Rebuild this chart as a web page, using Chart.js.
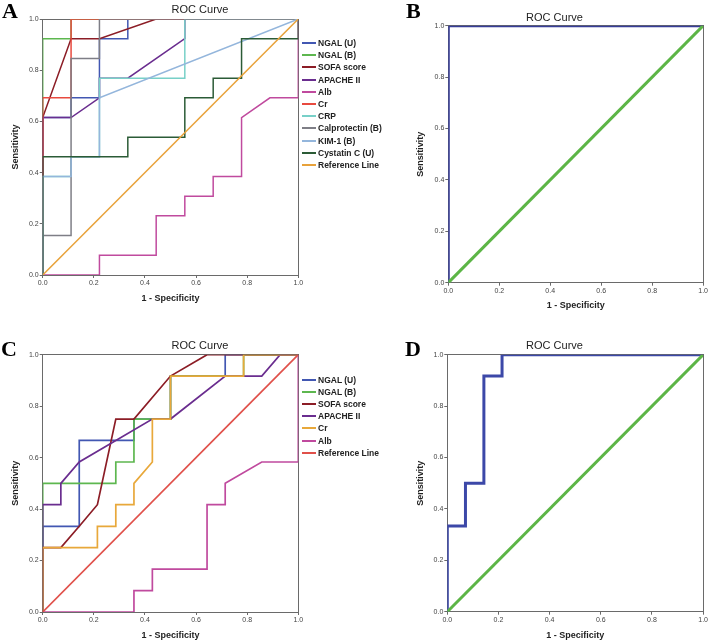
<!DOCTYPE html>
<html><head><meta charset="utf-8">
<script src="https://cdn.jsdelivr.net/npm/chart.js@4"></script>
<style>
html,body{margin:0;padding:0;background:#fff;width:709px;height:642px;overflow:hidden;}
.pane{position:absolute;}
.letter{position:absolute;font-family:'Liberation Serif','Times New Roman',serif;font-weight:bold;font-size:22px;line-height:22px;color:#000;}
.legend{position:absolute;font-family:'Liberation Sans',Arial,sans-serif;font-weight:bold;font-size:8.5px;color:#222;}
.legend .item{position:absolute;left:0;height:12px;white-space:nowrap;}
.legend .sw{position:absolute;left:0;top:5px;width:14px;height:2px;}
.legend .tx{position:absolute;left:16px;top:0;line-height:12px;}
</style></head><body>
<div class="pane" style="left:0;top:0;width:400px;height:320px"><canvas id="cA" width="400" height="320"></canvas></div>
<div class="pane" style="left:400px;top:0;width:309px;height:320px"><canvas id="cB" width="309" height="320"></canvas></div>
<div class="pane" style="left:0;top:320px;width:400px;height:322px"><canvas id="cC" width="400" height="322"></canvas></div>
<div class="pane" style="left:400px;top:320px;width:309px;height:322px"><canvas id="cD" width="309" height="322"></canvas></div>
<div class="letter" style="left:2px;top:0px">A</div>
<div class="letter" style="left:406px;top:0px">B</div>
<div class="letter" style="left:1px;top:338px">C</div>
<div class="letter" style="left:405px;top:338px">D</div>
<div class="legend" id="legA" style="left:302px;top:37px"></div>
<div class="legend" id="legC" style="left:302px;top:374px"></div>
<script>
// ---------- Panel A data (1 - specificity, sensitivity) ----------
const A_labels = ['NGAL (U)','NGAL (B)','SOFA score','APACHE II','Alb','Cr','CRP','Calprotectin (B)','KIM-1 (B)','Cystatin C (U)','Reference Line'];
const A_colors = ['#4257b2','#5db74f','#8c1d26','#6a2d8f','#c04a9e','#e84a3f','#78d0c8','#7e7e86','#94b6dc','#2b5b36','#e8a23a'];
const A_ngalU_x = [0,0,0.111,0.111,0.222,0.222,0.333,0.333,1];
const A_ngalU_y = [0,0.615,0.615,0.692,0.692,0.923,0.923,1,1];
const A_ngalB_x = [0,0,0.111,0.111,1];
const A_ngalB_y = [0,0.923,0.923,1,1];
const A_sofa_x = [0,0,0.111,0.222,0.444,1];
const A_sofa_y = [0,0.615,0.923,0.923,1,1];
const A_apache_x = [0,0,0.111,0.222,0.222,0.333,0.556,0.556,1];
const A_apache_y = [0,0.615,0.615,0.692,0.769,0.769,0.923,1,1];
const A_alb_x = [0,0.222,0.222,0.444,0.444,0.556,0.556,0.667,0.667,0.778,0.778,0.889,1,1];
const A_alb_y = [0,0,0.077,0.077,0.231,0.231,0.308,0.308,0.385,0.385,0.615,0.692,0.692,1];
const A_cr_x = [0,0,0.111,0.111,1];
const A_cr_y = [0,0.692,0.692,1,1];
const A_crp_x = [0,0,0.111,0.111,0.222,0.222,0.556,0.556,1];
const A_crp_y = [0,0.385,0.385,0.462,0.462,0.769,0.769,1,1];
const A_calp_x = [0,0,0.111,0.111,0.222,0.222,1];
const A_calp_y = [0,0.154,0.154,0.846,0.846,1,1];
const A_kim_x = [0,0,0.111,0.111,0.222,0.222,1];
const A_kim_y = [0,0.385,0.385,0.462,0.462,0.692,1];
const A_cys_x = [0,0,0.333,0.333,0.556,0.556,0.667,0.667,0.778,0.778,1,1];
const A_cys_y = [0,0.462,0.462,0.538,0.538,0.692,0.692,0.769,0.769,0.923,0.923,1];
const ref_x = [0,1];
const ref_y = [0,1];

// ---------- Panel B data ----------
const B_labels = ['NGAL','Reference Line'];
const B_colors = ['#373d98','#5cb546'];
const B_ngal_x = [0,0,1];
const B_ngal_y = [0,1,1];

// ---------- Panel C data ----------
const C_labels = ['NGAL (U)','NGAL (B)','SOFA score','APACHE II','Cr','Alb','Reference Line'];
const C_colors = ['#4257b2','#5db74f','#8c1d26','#6a2d8f','#e8a83a','#c04a9e','#e0504a'];
const C_ngalU_x = [0,0,0.143,0.143,0.357,0.357,0.5,0.5,0.714,0.714,1];
const C_ngalU_y = [0,0.333,0.333,0.667,0.667,0.75,0.75,0.917,0.917,1,1];
const C_ngalB_x = [0,0,0.286,0.286,0.357,0.357,0.5,0.5,0.786,0.786,1];
const C_ngalB_y = [0,0.5,0.5,0.583,0.583,0.75,0.75,0.917,0.917,1,1];
const C_sofa_x = [0,0,0.071,0.143,0.214,0.286,0.357,0.5,0.643,1];
const C_sofa_y = [0,0.25,0.25,0.333,0.417,0.75,0.75,0.917,1,1];
const C_apache_x = [0,0,0.071,0.071,0.143,0.429,0.5,0.714,0.857,0.929,1];
const C_apache_y = [0,0.417,0.417,0.5,0.583,0.75,0.75,0.917,0.917,1,1];
const C_cr_x = [0,0,0.214,0.214,0.286,0.286,0.357,0.357,0.429,0.429,0.5,0.5,0.786,0.786,1];
const C_cr_y = [0,0.25,0.25,0.333,0.333,0.417,0.417,0.5,0.583,0.75,0.75,0.917,0.917,1,1];
const C_alb_x = [0,0.357,0.357,0.429,0.429,0.643,0.643,0.714,0.714,0.857,1,1];
const C_alb_y = [0,0,0.083,0.083,0.167,0.167,0.417,0.417,0.5,0.583,0.583,1];

// ---------- Panel D data ----------
const D_labels = ['NGAL','Reference Line'];
const D_colors = ['#3c48a8','#5cb546'];
const D_ngal_x = [0,0,0.071,0.071,0.143,0.143,0.214,0.214,1];
const D_ngal_y = [0,0.333,0.333,0.5,0.5,0.917,0.917,1,1];

const tickValues = [0,0.2,0.4,0.6,0.8,1.0];

Chart.defaults.font.family = "'Liberation Sans', Arial, sans-serif";

function pts(xs, ys){ return xs.map((x,k)=>({x:x, y:ys[k]})); }

function makeChart(id, labels, colors, xsList, ysList, g){
  const n = labels.length;
  const datasets = labels.map((lab,i)=>({
    label: lab,
    data: pts(xsList[i], ysList[i]),
    borderColor: colors[i],
    backgroundColor: colors[i],
    borderWidth: g.lw,
    showLine: true,
    pointRadius: 0,
    pointHoverRadius: 0,
    fill: false,
    tension: 0,
    order: n - i
  }));
  const gridCol = '#6a6a6a';
  return new Chart(document.getElementById(id), {
    type: 'scatter',
    data: { datasets },
    options: {
      responsive: false,
      animation: false,
      events: [],
      layout: { padding: 0 },
      plugins: {
        legend: { display: false },
        tooltip: { enabled: false },
        title: { display: true, text: 'ROC Curve', color: '#222',
                 font: { size: 11, weight: 'normal' },
                 padding: { top: g.tTop, bottom: g.tBot } }
      },
      scales: {
        x: {
          type: 'linear', position: 'bottom', min: 0, max: 1,
          afterBuildTicks: s => { s.ticks = tickValues.map(v=>({value:v})); },
          ticks: { callback: v => Number(v).toFixed(1), font: { size: 7 }, color: '#444', padding: 1, maxRotation: 0, autoSkip: false },
          grid: { display: true, drawOnChartArea: false, drawTicks: true, tickLength: 3, color: gridCol },
          border: { display: true, color: gridCol, width: 1 },
          title: { display: true, text: '1 - Specificity', color: '#222', font: { size: 9, weight: 'bold' }, padding: { top: 0, bottom: g.xtPad } },
          afterFit: s => { s.height = g.xH; }
        },
        y: {
          type: 'linear', position: 'left', min: 0, max: 1,
          afterBuildTicks: s => { s.ticks = tickValues.map(v=>({value:v})); },
          ticks: { callback: v => Number(v).toFixed(1), font: { size: 7 }, color: '#444', padding: 1, autoSkip: false },
          grid: { display: true, drawOnChartArea: false, drawTicks: true, tickLength: 3, color: gridCol },
          border: { display: true, color: gridCol, width: 1 },
          title: { display: true, text: 'Sensitivity', color: '#222', font: { size: 9, weight: 'bold' }, padding: { top: g.ytPad, bottom: 0 } },
          afterFit: s => { s.width = g.yW; }
        },
        xTop: {
          type: 'linear', position: 'top', min: 0, max: 1,
          ticks: { display: false }, grid: { display: false },
          border: { display: true, color: gridCol, width: 1 },
          afterFit: s => { s.height = 0; }
        },
        yRight: {
          type: 'linear', position: 'right', min: 0, max: 1,
          ticks: { display: false }, grid: { display: false },
          border: { display: true, color: gridCol, width: 1 },
          afterFit: s => { s.width = g.rW; }
        }
      }
    }
  });
}

function makeLegend(elId, labels, colors, gap){
  const el = document.getElementById(elId);
  labels.forEach((lab,i)=>{
    const it = document.createElement('div');
    it.className = 'item';
    it.style.top = (i*gap) + 'px';
    const sw = document.createElement('div');
    sw.className = 'sw'; sw.style.background = colors[i];
    const tx = document.createElement('div');
    tx.className = 'tx'; tx.textContent = lab;
    it.appendChild(sw); it.appendChild(tx);
    el.appendChild(it);
  });
}

makeChart('cA', A_labels, A_colors,
  [A_ngalU_x,A_ngalB_x,A_sofa_x,A_apache_x,A_alb_x,A_cr_x,A_crp_x,A_calp_x,A_kim_x,A_cys_x,ref_x],
  [A_ngalU_y,A_ngalB_y,A_sofa_y,A_apache_y,A_alb_y,A_cr_y,A_crp_y,A_calp_y,A_kim_y,A_cys_y,ref_y],
  { lw: 1.5, yW: 42.7, rW: 101.7, xH: 45, tTop: 3.4, tBot: 2.4, xtPad: 15.6, ytPad: 10.6 });

makeChart('cB', B_labels, B_colors, [B_ngal_x, ref_x], [B_ngal_y, ref_y],
  { lw: 3, yW: 48.3, rW: 5.7, xH: 37.3, tTop: 10.9, tBot: 1.6, xtPad: 8.6, ytPad: 15.6 });

makeChart('cC', C_labels, C_colors,
  [C_ngalU_x,C_ngalB_x,C_sofa_x,C_apache_x,C_cr_x,C_alb_x,ref_x],
  [C_ngalU_y,C_ngalB_y,C_sofa_y,C_apache_y,C_cr_y,C_alb_y,ref_y],
  { lw: 1.7, yW: 42.7, rW: 101.7, xH: 30, tTop: 18.9, tBot: 2.6, xtPad: 0.6, ytPad: 10.1 });

makeChart('cD', D_labels, D_colors, [D_ngal_x, ref_x], [D_ngal_y, ref_y],
  { lw: 3, yW: 47.3, rW: 5.7, xH: 30.3, tTop: 19.4, tBot: 2.1, xtPad: 0.6, ytPad: 15.6 });

makeLegend('legA', A_labels, A_colors, 12.2);
makeLegend('legC', C_labels, C_colors, 12.1);
</script>
</body></html>
